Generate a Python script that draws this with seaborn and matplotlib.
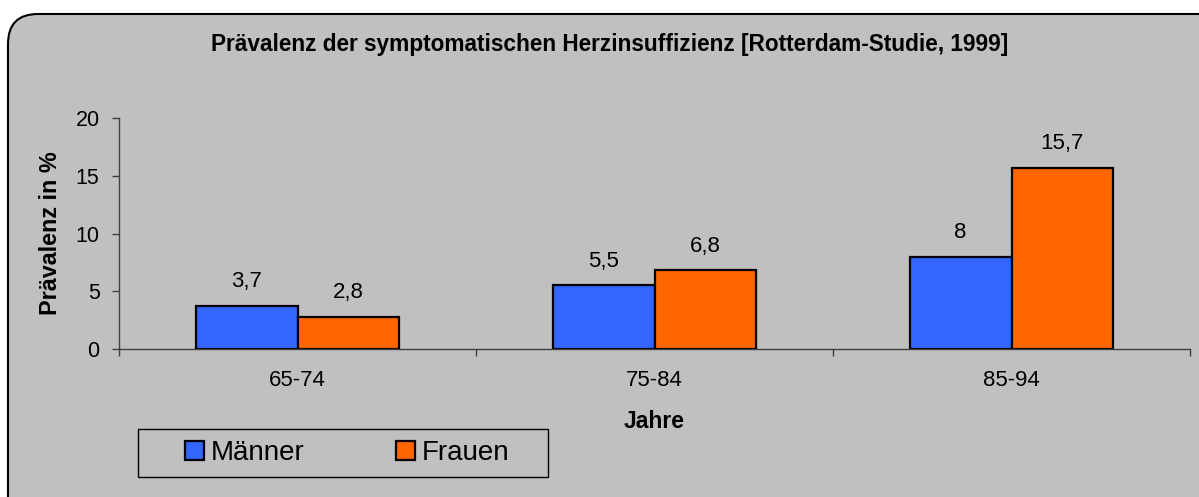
import matplotlib
matplotlib.use("Agg")
import matplotlib.pyplot as plt
import matplotlib.patches as mpatches
import matplotlib.transforms as mtransforms
import seaborn as sns
import pandas as pd

# ---- data ----
age_groups = ["65-74", "75-84", "85-94"]
maenner = [3.7, 5.5, 8.0]
frauen = [2.8, 6.8, 15.7]
series_names = ["Männer", "Frauen"]
y_ticks = [0, 5, 10, 15, 20]

title = "Prävalenz der symptomatischen Herzinsuffizienz [Rotterdam-Studie, 1999]"
x_label = "Jahre"
y_label = "Prävalenz in %"

df = pd.DataFrame({
    "Jahre": age_groups * 2,
    "Wert": maenner + frauen,
    "Geschlecht": [series_names[0]] * 3 + [series_names[1]] * 3,
})

sns.set_theme(style="white")
plt.rcParams["font.family"] = ["Liberation Sans", "DejaVu Sans"]
plt.rcParams["text.color"] = "black"
plt.rcParams["xtick.color"] = "black"
plt.rcParams["ytick.color"] = "black"

W, H = 1199, 497
fig = plt.figure(figsize=(W / 100, H / 100), dpi=100, facecolor="white")

# rounded grey chart area
box = mpatches.FancyBboxPatch((8, -40), 1300, 497 - 14 + 40,
                              boxstyle="round,pad=0,rounding_size=30",
                              transform=mtransforms.IdentityTransform(),
                              facecolor="#C0C0C0", edgecolor="black",
                              linewidth=1.5, zorder=-5)
fig.add_artist(box)

ax = fig.add_axes([119 / W, (H - 349) / H, (1190 - 119) / W, (349 - 118) / H])
ax.set_facecolor("none")

sns.barplot(data=df, x="Jahre", y="Wert", hue="Geschlecht",
            palette=["#3366FF", "#FF6600"], width=0.57, gap=0,
            edgecolor="black", linewidth=1.6, saturation=1, ax=ax)

for cont in ax.containers:
    ax.bar_label(cont, labels=[f"{v:g}".replace(".", ",") for v in cont.datavalues],
                 padding=10, fontsize=16, color="black")

ax.set_xlim(-0.5, 2.5)
ax.set_ylim(0, 20)
ax.set_yticks(y_ticks)
ax.set_yticklabels([str(t) for t in y_ticks], fontsize=15.5, color="black")
ax.set_xticks(range(len(age_groups)))
ax.set_xticklabels(age_groups, fontsize=16, color="black")
ax.set_xticks([-0.5, 0.5, 1.5, 2.5], minor=True)
ax.tick_params(axis="x", which="major", length=0, pad=15)
ax.tick_params(axis="x", which="minor", length=5, width=1, color="#404040", direction="out", bottom=True)
ax.tick_params(axis="y", which="major", length=5, width=1, color="#404040",
               labelcolor="black", direction="out", left=True, pad=9)

for s in ["top", "right"]:
    ax.spines[s].set_visible(False)
for s in ["left", "bottom"]:
    ax.spines[s].set_color("#404040")
    ax.spines[s].set_linewidth(1)

ax.set_xlabel(x_label, fontsize=16.5, fontweight="bold", color="black", va="center")
ax.xaxis.set_label_coords(0.5, (349 - 422) / 231)
ax.set_ylabel(y_label, fontsize=16.8, fontweight="bold", color="black", va="center")
ax.yaxis.set_label_coords((50 - 119) / 1071, 0.5)

fig.text(609.5 / W, 1 - 45 / H, title, ha="center", va="center",
         fontsize=16.3, fontweight="bold", color="black")

# legend
leg = ax.legend(loc="center left", bbox_to_anchor=(185 / W, 1 - 453 / H),
                bbox_transform=fig.transFigure, ncol=2, frameon=False,
                fontsize=20, handlelength=0.68, handleheight=0.68,
                handletextpad=0.25, columnspacing=3.3, borderpad=0,
                borderaxespad=0, labelcolor="black")
frame = mpatches.Rectangle((138 / W, 1 - 477 / H), 410 / W, 48 / H,
                           transform=fig.transFigure, facecolor="none",
                           edgecolor="black", linewidth=1.0, zorder=3)
fig.add_artist(frame)

fig.savefig("out.png", dpi=100, facecolor="white")
